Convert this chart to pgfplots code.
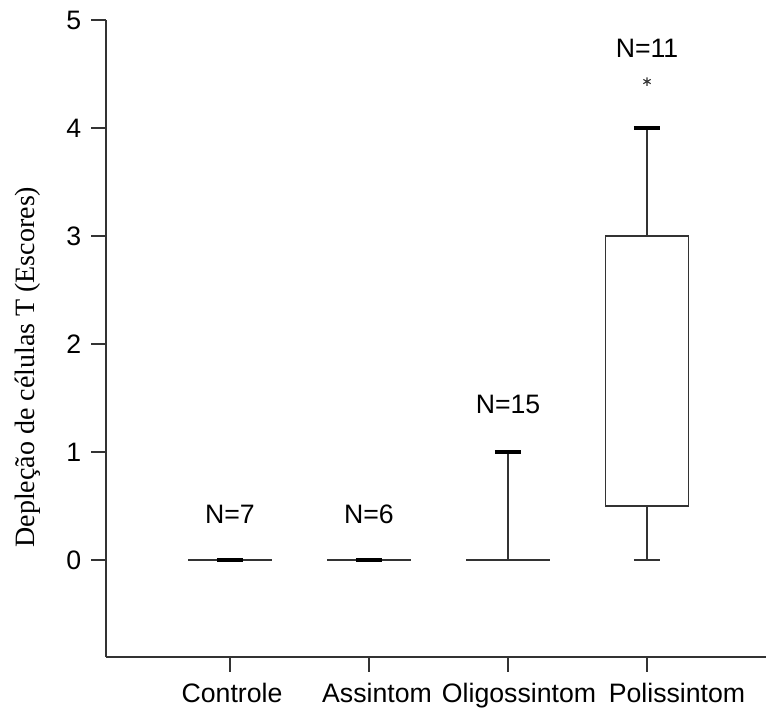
\documentclass[border=0pt]{standalone}
\usepackage{fontspec}
\setmainfont{Liberation Sans}
\newfontfamily\timesf{Liberation Serif}
\usepackage{pgfplots}
\pgfplotsset{compat=1.18}
\definecolor{ln}{HTML}{333333}
\begin{document}
\begin{tikzpicture}
\begin{axis}[
  scale only axis,
  width=495pt, height=477.75pt,
  xmin=0.108, xmax=4.856,
  ymin=-0.9, ymax=5,
  axis lines=left,
  axis line style={-, ln, line width=1.1pt},
  tick style={ln, line width=1.1pt},
  tick align=outside,
  major tick length=11pt,
  xtick={1,2,3,4},
  xticklabels={{\hspace*{3pt}Controle},{\hspace*{12pt}Assintom},{\hspace*{16.5pt}Oligossintom},{\hspace*{45pt}Polissintom}},
  ytick={0,1,2,3,4,5},
  /pgf/number format/assume math mode=true,
  ticklabel style={font=\fontsize{20}{24}\selectfont},
  yticklabel style={xshift=-4pt},
  xticklabel style={yshift=-5pt},
  clip=false,
]
% Controle
\addplot[ln, line width=1.1pt] coordinates {(0.7,0) (1.3,0)};
\addplot[black, line width=2.6pt] coordinates {(0.905,0) (1.095,0)};
% Assintom
\addplot[ln, line width=1.1pt] coordinates {(1.7,0) (2.3,0)};
\addplot[black, line width=2.6pt] coordinates {(1.905,0) (2.095,0)};
% Oligossintom
\addplot[ln, line width=1.1pt] coordinates {(2.7,0) (3.3,0)};
\addplot[ln, line width=1.1pt] coordinates {(3,0) (3,1)};
\addplot[black, line width=2.6pt] coordinates {(2.905,1) (3.095,1)};
% Polissintom
\addplot[ln, line width=1.1pt] coordinates {(3.7,0.5) (4.3,0.5) (4.3,3) (3.7,3) (3.7,0.5)};
\addplot[ln, line width=1.1pt] coordinates {(4,3) (4,4)};
\addplot[ln, line width=1.1pt] coordinates {(4,0.5) (4,0)};
\addplot[ln, line width=1.1pt] coordinates {(3.905,0) (4.095,0)};
\addplot[black, line width=2.6pt] coordinates {(3.905,4) (4.095,4)};
\addplot[only marks, mark=asterisk, mark size=3.2pt, ln, line width=0.8pt] coordinates {(4,4.43)};
% N labels
\node[font=\fontsize{20}{24}\selectfont] at (axis cs:1,0.42) {N=7};
\node[font=\fontsize{20}{24}\selectfont] at (axis cs:2,0.42) {N=6};
\node[font=\fontsize{20}{24}\selectfont] at (axis cs:3,1.44) {N=15};
\node[font=\fontsize{20}{24}\selectfont] at (axis cs:4,4.74) {N=11};
\node[rotate=90, font=\timesf\fontsize{21}{24}\selectfont] at (rel axis cs:-0.119,0.455) {Depleção de células T (Escores)};
\end{axis}
\pgfresetboundingbox
\path (current axis.south west) ++(-79.5pt,-42pt) rectangle ([yshift=15pt]current axis.north east);
\end{tikzpicture}
\end{document}
